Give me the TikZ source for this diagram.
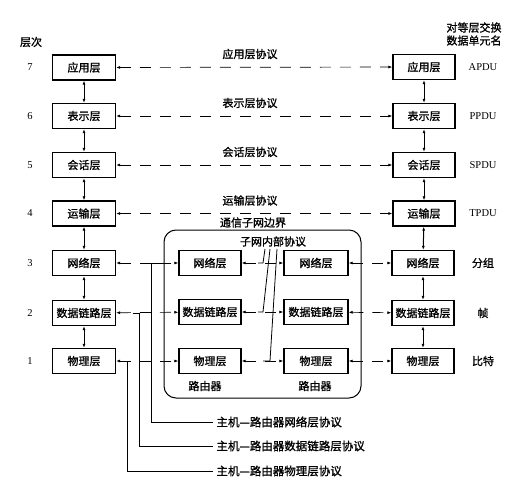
\documentclass[tikz,border=0pt]{standalone}
\usepackage{fontspec}
\setmainfont{Liberation Serif}
\newfontfamily\cjk{Noto Sans CJK SC}[FakeBold=1.2]
\usetikzlibrary{arrows.meta}
\begin{document}
\begin{tikzpicture}[x=1pt,y=-1pt,
  box/.style={draw,line width=1.3pt,minimum height=25pt,inner sep=0pt,font=\cjk\fontsize{11}{12}\selectfont},
  lbox/.style={box,minimum width=63pt},
  tips/.style={{Latex[length=4pt,width=3pt]}-{Latex[length=4pt,width=3pt]}},
  dline/.style={tips,line width=0.7pt,dash pattern=on 11pt off 9pt},
  vline/.style={tips,line width=1pt},
  lbl/.style={font=\cjk\fontsize{11}{13}\selectfont},
  hl/.style={font=\cjk\fontsize{11.5}{13}\selectfont},
  num/.style={font=\fontsize{10.5}{12}\selectfont},
  tap/.style={line width=0.8pt},
]
\useasboundingbox (0,0) rectangle (515,495);
% headers
\node[lbl] (hdr) at (31,42) {层次};
\node[lbl,align=center] (hdrR) at (474,34) {对等层交换\\数据单元名};
% left host
\node[lbox] (L7) at (84,67.5) {应用层};
\node[lbox] (L6) at (84,116) {表示层};
\node[lbox] (L5) at (84,165) {会话层};
\node[lbox] (L4) at (84,213.5) {运输层};
\node[lbox] (L3) at (84,263) {网络层};
\node[lbox] (L2) at (84,313) {数据链路层};
\node[lbox] (L1) at (84,361) {物理层};
% right host
\node[lbox,minimum width=62pt] (R7) at (424,67) {应用层};
\node[lbox,minimum width=62pt] (R6) at (424,116) {表示层};
\node[lbox,minimum width=62pt] (R5) at (424,165) {会话层};
\node[lbox,minimum width=62pt] (R4) at (424,213.5) {运输层};
\node[lbox,minimum width=62pt] (R3) at (423,263) {网络层};
\node[lbox,minimum width=62pt] (R2) at (423,313) {数据链路层};
\node[lbox,minimum width=62pt] (R1) at (423,361) {物理层};
% routers
\node[box,minimum width=62pt] (A3) at (210,263) {网络层};
\node[box,minimum width=62pt] (A2) at (210,312) {数据链路层};
\node[box,minimum width=62pt] (A1) at (210,361) {物理层};
\node[box,minimum width=64pt] (B3) at (316,263) {网络层};
\node[box,minimum width=64pt] (B2) at (316,312) {数据链路层};
\node[box,minimum width=64pt] (B1) at (316,361) {物理层};
\node[lbl] (ra) at (205,386) {路由器};
\node[lbl] (rb) at (315,386) {路由器};
% subnet boundary
\draw[rounded corners=12pt,line width=1pt] (164,230) rectangle (361,398);
% layer numbers
\foreach \n/\y in {7/67.5,6/116,5/165,4/213.5,3/263,2/313,1/361}
  \node[num] (n\n) at (30,\y) {\n};
% right labels
\node[num] (u7) at (483,67) {APDU};
\node[num] (u6) at (483,116) {PPDU};
\node[num] (u5) at (483,165) {SPDU};
\node[num] (u4) at (483,213.5) {TPDU};
\node[lbl] (u3) at (483,263) {分组};
\node[lbl] (u2) at (483,313) {帧};
\node[lbl] (u1) at (483,361) {比特};
% protocol labels
\node[lbl] (p7) at (250,54) {应用层协议};
\node[lbl] (p6) at (250,103) {表示层协议};
\node[lbl] (p5) at (250,152) {会话层协议};
\node[lbl] (p4) at (250,200.5) {运输层协议};
\node[lbl] (pb) at (253,222.5) {通信子网边界};
\node[lbl] (ps) at (273,241.5) {子网内部协议};
% vertical arrows
\foreach \a/\b in {7/6,6/5,5/4,4/3,3/2,2/1}{
  \draw[vline] (L\a) -- (L\b);
  \draw[vline] (R\a) -- (R\b);
}
% peer dashed lines
\foreach \a in {7,6,5,4}
  \draw[dline] (L\a) -- (R\a);
\foreach \a in {3,2,1}{
  \draw[dline] (L\a) -- (A\a);
  \draw[dline] (A\a) -- (B\a);
  \draw[dline] (B\a) -- (R\a);
}
% host-router taps
\coordinate (t3) at (151,263);
\coordinate (t2) at (139,313);
\coordinate (t1) at (127,361);
\node[hl,anchor=west] (h3) at (213,422) {主机—路由器网络层协议};
\node[hl,anchor=west] (h2) at (213,446) {主机—路由器数据链路层协议};
\node[hl,anchor=west] (h1) at (213,471) {主机—路由器物理层协议};
\draw[tap] (t3) -- ++(12,0);
\draw[tap] (t3) |- (h3.west);
\draw[tap] (t2) -- ++(-6,0);
\draw[tap] (t2) |- (h2.west);
\draw[tap] (t1) -- ++(-6,0);
\draw[tap] (t1) |- (h1.west);
% subnet internal taps
\coordinate (s1) at (265,249);
\coordinate (s2) at (270,249);
\coordinate (s3) at (277,249);
\coordinate (m3) at (263,263);
\coordinate (m2) at (263,312);
\coordinate (m1) at (270,361);
\draw[tap] (s1) -- (m3) -- ++(-5,0);
\draw[tap] (s2) -- (m2) -- ++(-5,0);
\draw[tap] (s3) -- (m1) -- ++(-7,0);
\end{tikzpicture}
\end{document}
